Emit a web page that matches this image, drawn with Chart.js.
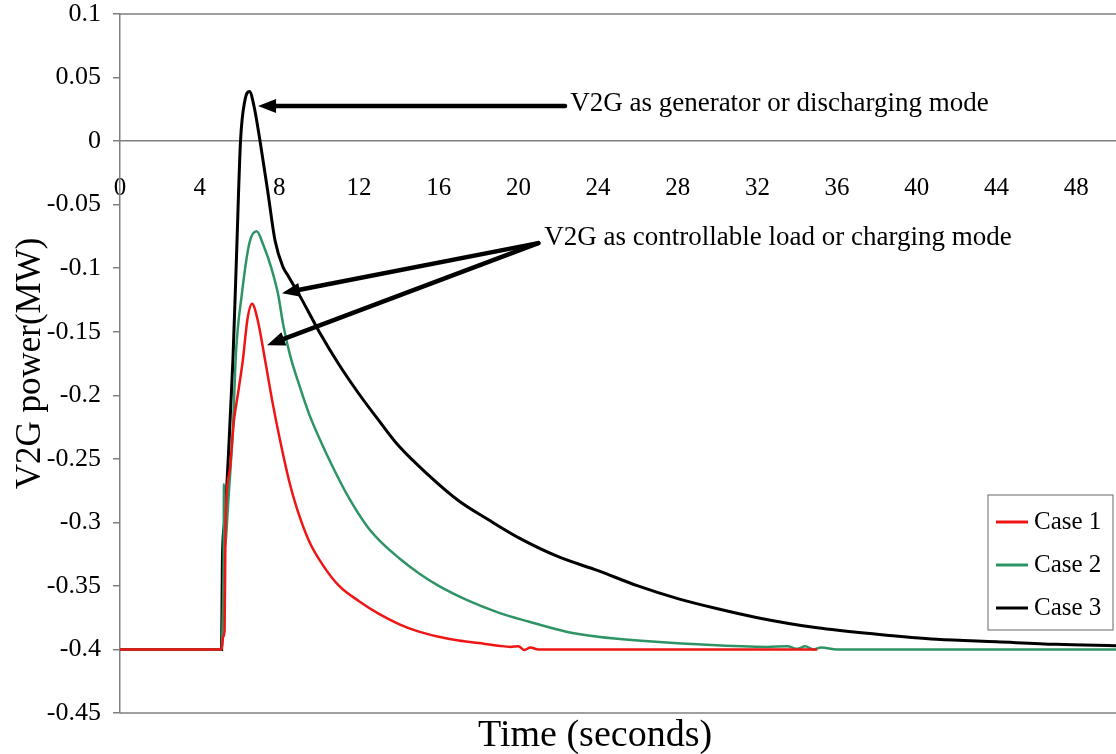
<!DOCTYPE html>
<html>
<head>
<meta charset="utf-8">
<script src="https://cdn.jsdelivr.net/npm/chart.js@4/dist/chart.umd.min.js"></script>
<style>
  html, body { margin: 0; padding: 0; background: #fff; }
  #wrap { width: 1116px; height: 754px; }
</style>
</head>
<body>
<div id="wrap"><canvas id="v2gChart" width="1116" height="754"></canvas></div>
<script>
// Values (time in seconds, power in MW)
const case1Time  = [0, 5.1, 5.18, 5.25, 5.3, 5.5, 5.72, 5.93, 6.17, 6.4, 6.63, 6.9, 7.28, 7.65, 8.03, 8.5, 8.9, 9.5, 10.2, 11, 12, 13, 14, 15, 16, 17, 18, 19, 19.6, 20, 20.3, 20.6, 21, 21.5, 35];
const case1Power = [-0.4, -0.4, -0.39, -0.385, -0.3, -0.26, -0.22, -0.198, -0.172, -0.14, -0.128, -0.14, -0.172, -0.205, -0.235, -0.268, -0.29, -0.315, -0.334, -0.35, -0.362, -0.372, -0.38, -0.386, -0.39, -0.393, -0.395, -0.397, -0.398, -0.3975, -0.4005, -0.3985, -0.4, -0.4, -0.4];

const case2Time  = [0, 5.1, 5.15, 5.2, 5.22, 5.25, 5.45, 5.67, 5.82, 6.12, 6.5, 6.86, 7.2, 7.6, 7.93, 8.2, 8.53, 9.04, 9.5, 10.04, 10.7, 11.5, 12.4, 13.2, 14, 15, 16, 17.4, 19, 20.5, 22.4, 24, 26, 29, 32.5, 33.5, 34, 34.4, 34.8, 35.2, 36, 50];
const case2Power = [-0.4, -0.4, -0.38, -0.33, -0.27, -0.32, -0.28, -0.225, -0.167, -0.12, -0.08, -0.071, -0.082, -0.1, -0.12, -0.145, -0.168, -0.194, -0.215, -0.235, -0.257, -0.281, -0.303, -0.317, -0.328, -0.34, -0.35, -0.361, -0.371, -0.378, -0.386, -0.39, -0.393, -0.396, -0.398, -0.3975, -0.3995, -0.3975, -0.4, -0.3985, -0.4, -0.4];

const case3Time  = [0, 5.1, 5.14, 5.25, 5.45, 5.67, 5.85, 6.05, 6.27, 6.5, 6.72, 7.03, 7.43, 7.78, 8.18, 8.4, 9, 10, 11, 12, 13, 14, 15.5, 17, 18.5, 20, 22, 24, 26, 28, 30, 32, 35, 38, 41, 44, 47, 50];
const case3Power = [-0.4, -0.4, -0.33, -0.3, -0.245, -0.172, -0.09, 0, 0.032, 0.039, 0.028, 0, -0.041, -0.078, -0.099, -0.105, -0.121, -0.15, -0.176, -0.199, -0.22, -0.24, -0.263, -0.283, -0.298, -0.312, -0.327, -0.338, -0.35, -0.36, -0.368, -0.375, -0.383, -0.388, -0.392, -0.394, -0.396, -0.397];

const xTicks = [0, 4, 8, 12, 16, 20, 24, 28, 32, 36, 40, 44, 48];
const yTicks = [0.1, 0.05, 0, -0.05, -0.1, -0.15, -0.2, -0.25, -0.3, -0.35, -0.4, -0.45];
const yTickLabels = ['0.1', '0.05', '0', '-0.05', '-0.1', '-0.15', '-0.2', '-0.25', '-0.3', '-0.35', '-0.4', '-0.45'];

// annotation anchors, in data units [time, power]
const genLabel = 'V2G as generator or discharging mode';
const genLabelAt = [22.6, 0.029];
const genArrowFrom = [22.34, 0.0276];
const genArrowTo = [6.93, 0.0276];

const loadLabel = 'V2G as controllable load or charging mode';
const loadLabelAt = [21.3, -0.0764];
const loadArrowFrom = [21.0, -0.0803];
const loadArrowTips = [[8.13, -0.1197], [7.38, -0.1606]];

const SERIF = '"Liberation Serif", "DejaVu Serif", serif';
Chart.defaults.color = '#000';
Chart.defaults.font.family = SERIF;

const toPoints = (ts, vs) => ts.map((t, i) => ({ x: t, y: vs[i] }));

// box lines + x title
const framePlugin = {
  id: 'frame',
  beforeDatasetsDraw(chart) {
    const { ctx, chartArea: a } = chart;
    ctx.save();
    ctx.strokeStyle = '#808080';
    ctx.lineWidth = 1.5;
    ctx.beginPath();
    ctx.moveTo(a.left, a.top); ctx.lineTo(a.right, a.top);
    ctx.moveTo(a.left, a.bottom); ctx.lineTo(a.right, a.bottom);
    ctx.stroke();
    ctx.restore();
  },
  afterDraw(chart) {
    const { ctx, chartArea: a } = chart;
    ctx.save();
    ctx.fillStyle = '#000';
    ctx.font = '38px ' + SERIF;
    ctx.textAlign = 'center';
    ctx.textBaseline = 'middle';
    ctx.fillText('Time (seconds)', a.left + (a.right - a.left) * 0.477, 736);
    ctx.restore();
  }
};

function drawArrow(ctx, x0, y0, x1, y1) {
  const ang = Math.atan2(y1 - y0, x1 - x0);
  const len = 18, half = 7;
  const bx = x1 - len * Math.cos(ang), by = y1 - len * Math.sin(ang);
  ctx.beginPath();
  ctx.moveTo(x0, y0);
  ctx.lineTo(bx, by);
  ctx.stroke();
  ctx.beginPath();
  ctx.moveTo(x1, y1);
  ctx.lineTo(bx + half * Math.sin(ang), by - half * Math.cos(ang));
  ctx.lineTo(bx - half * Math.sin(ang), by + half * Math.cos(ang));
  ctx.closePath();
  ctx.fill();
}

const notePlugin = {
  id: 'notes',
  afterDatasetsDraw(chart) {
    const { ctx, scales: { x, y } } = chart;
    const px = p => [x.getPixelForValue(p[0]), y.getPixelForValue(p[1])];
    ctx.save();
    ctx.strokeStyle = '#000';
    ctx.fillStyle = '#000';
    ctx.lineWidth = 4.5;
    ctx.lineCap = 'round';
    const [ga, gb] = px(genArrowFrom);
    const [gc, gd] = px(genArrowTo);
    drawArrow(ctx, ga, gb, gc, gd);
    const [la, lb] = px(loadArrowFrom);
    loadArrowTips.forEach(tip => {
      const [tx, ty] = px(tip);
      drawArrow(ctx, la, lb, tx, ty);
    });
    ctx.font = '27px ' + SERIF;
    ctx.textAlign = 'left';
    ctx.textBaseline = 'middle';
    const [g1, g2] = px(genLabelAt);
    ctx.fillText(genLabel, g1, g2);
    const [l1, l2] = px(loadLabelAt);
    ctx.fillText(loadLabel, l1, l2);
    ctx.restore();
  }
};

// legend box inside the plot, lower right
const boxLegendPlugin = {
  id: 'boxLegend',
  afterDraw(chart) {
    const { ctx, chartArea: a } = chart;
    const sets = chart.data.datasets;
    const w = 125, rowH = 43;
    const left = a.right - 128, top = a.bottom - 218;
    ctx.save();
    ctx.fillStyle = '#fff';
    ctx.fillRect(left, top, w, rowH * sets.length + 6);
    ctx.strokeStyle = '#808080';
    ctx.lineWidth = 1.2;
    ctx.strokeRect(left, top, w, rowH * sets.length + 6);
    ctx.font = '25px ' + SERIF;
    ctx.textBaseline = 'middle';
    sets.forEach((ds, i) => {
      const cy = top + 27 + i * rowH;
      ctx.strokeStyle = ds.borderColor;
      ctx.lineWidth = 3;
      ctx.beginPath();
      ctx.moveTo(left + 8, cy);
      ctx.lineTo(left + 40, cy);
      ctx.stroke();
      ctx.fillStyle = '#000';
      ctx.fillText(ds.label, left + 46, cy);
    });
    ctx.restore();
  }
};

new Chart(document.getElementById('v2gChart'), {
  type: 'line',
  data: {
    datasets: [
      { label: 'Case 1', data: toPoints(case1Time, case1Power), borderColor: '#f01515', borderWidth: 2.5 },
      { label: 'Case 2', data: toPoints(case2Time, case2Power), borderColor: '#2e9466', borderWidth: 2.5 },
      { label: 'Case 3', data: toPoints(case3Time, case3Power), borderColor: '#000000', borderWidth: 3 }
    ]
  },
  options: {
    responsive: false,
    animation: false,
    parsing: false,
    elements: {
      point: { radius: 0 },
      line: { cubicInterpolationMode: 'monotone', fill: false }
    },
    layout: { padding: { top: 14, right: 0, bottom: 41, left: 0 } },
    plugins: { legend: { display: false }, tooltip: { enabled: false } },
    scales: {
      x: {
        type: 'linear',
        position: { y: 0 },
        min: 0,
        max: 50,
        afterBuildTicks: s => { s.ticks = xTicks.map(v => ({ value: v })); },
        ticks: { font: { size: 25 }, padding: 0, maxRotation: 0 },
        grid: { display: false, drawTicks: true, tickLength: 32 },
        border: { display: true, color: '#808080', width: 1.5 }
      },
      y: {
        type: 'linear',
        position: 'left',
        min: -0.45,
        max: 0.1,
        afterBuildTicks: s => { s.ticks = yTicks.map(v => ({ value: v })); },
        afterFit: s => { s.width = 120; s.paddingTop = 0; s.paddingBottom = 0; },
        ticks: {
          font: { size: 26, lineHeight: 1 },
          padding: 12,
          callback: (v) => yTickLabels[yTicks.findIndex(t => Math.abs(t - v) < 1e-9)]
        },
        grid: { drawOnChartArea: false, drawTicks: true, tickLength: 7, color: '#808080', lineWidth: 1.5 },
        border: { display: true, color: '#808080', width: 1.5 },
        title: { display: true, text: 'V2G power(MW)', font: { size: 35 }, padding: { top: 10, bottom: 0 } }
      }
    }
  },
  plugins: [framePlugin, notePlugin, boxLegendPlugin]
});
</script>
</body>
</html>
